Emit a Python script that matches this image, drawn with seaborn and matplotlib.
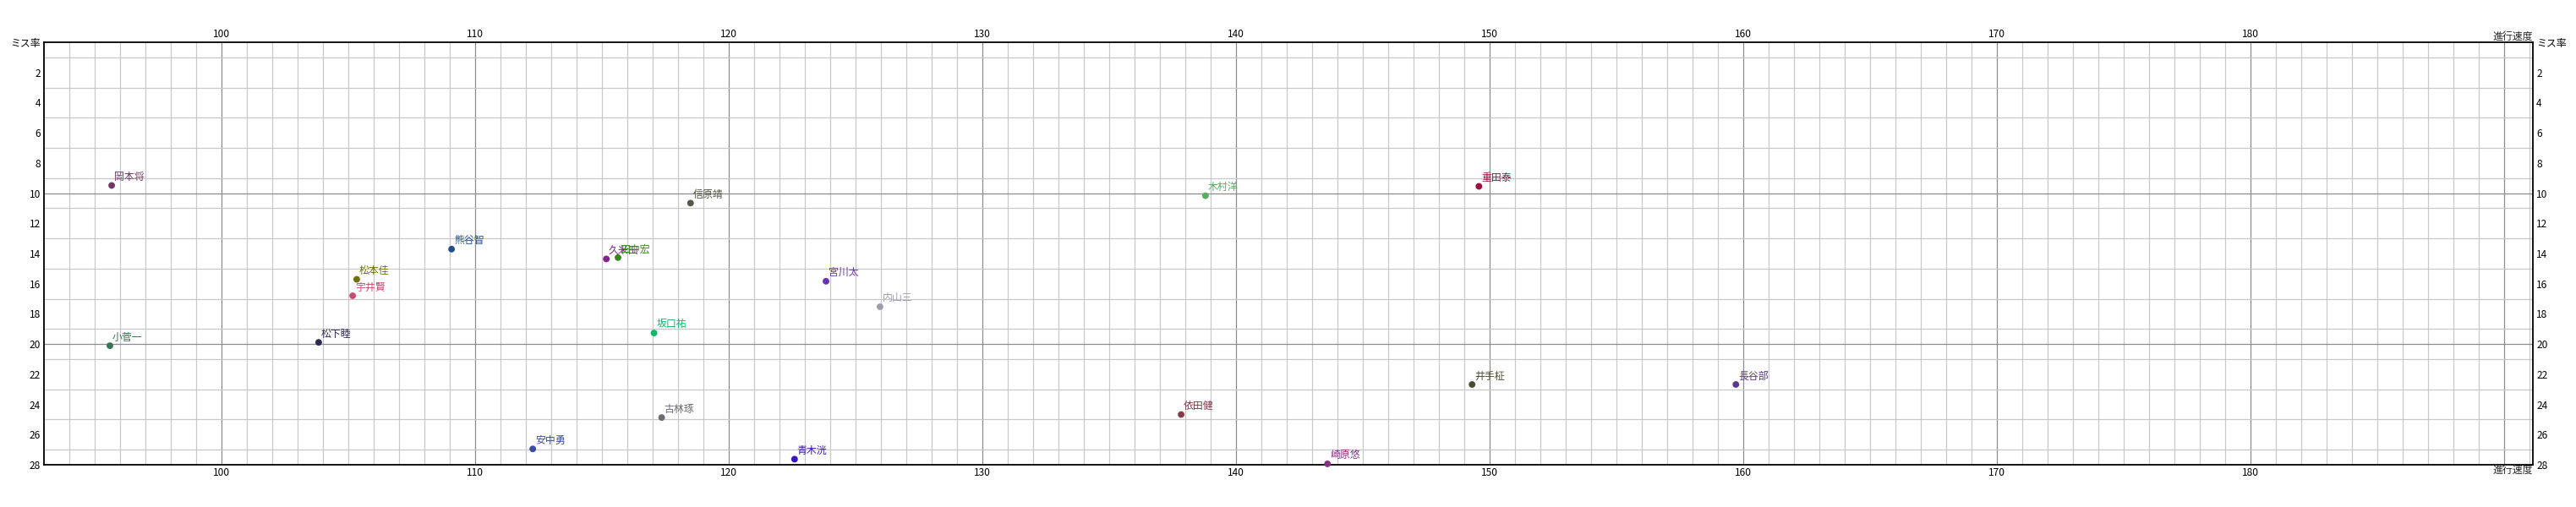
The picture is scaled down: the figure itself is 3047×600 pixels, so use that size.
import matplotlib
matplotlib.use("Agg")
import matplotlib.pyplot as plt
from matplotlib.ticker import MultipleLocator, FixedLocator, FuncFormatter
import seaborn as sns
import pandas as pd

names = ["岡本将", "小菅一", "松下睦", "松本佳", "宇井賢", "熊谷智", "信原靖", "久米田", "田中宏",
         "宮川太", "内山三", "坂口祐", "古林琢", "安中勇", "青木洸", "木村洋", "重田泰", "依田健",
         "崎原悠", "井手柾", "長谷部"]
speed = [95.67, 95.6, 103.83, 105.33, 105.17, 109.07, 118.49, 115.17, 115.63,
         123.83, 125.96, 117.05, 117.35, 112.27, 122.59, 138.79, 149.57, 137.83,
         143.6, 149.3, 159.7]
miss = [9.49, 20.11, 19.89, 15.71, 16.80, 13.71, 10.66, 14.36, 14.27,
        15.84, 17.53, 19.27, 24.87, 26.95, 27.63, 10.17, 9.55, 24.67,
        27.94, 22.68, 22.68]
colors = ["#70386a", "#3a7456", "#2c2a54", "#6e7008", "#cc4a72", "#22508a", "#56584a", "#82208e", "#33881a",
          "#6a32b8", "#a09cb0", "#10b868", "#6c6c78", "#3a4aa6", "#3a14c4", "#58ac64", "#9c1040", "#8a3a4a",
          "#8a3080", "#4a4c30", "#5c3a8a"]

x_ticks = [100, 110, 120, 130, 140, 150, 160, 170, 180, 190]
x_labels = ["100", "110", "120", "130", "140", "150", "160", "170", "180", ""]
y_ticks = list(range(0, 29, 2))
y_labels = ["ミス率"] + [str(v) for v in y_ticks[1:]]
y_major = [10, 20]
x_title = "進行速度"

sns.set_theme(style="white")
plt.rcParams["font.family"] = ["Noto Sans CJK JP", "DejaVu Sans"]

df = pd.DataFrame({"name": names, "speed": speed, "miss": miss})

fig = plt.figure(figsize=(30.47, 6.0), dpi=100)
ax = fig.add_axes([52 / 3047, 50 / 600, (2996 - 52) / 3047, 500 / 600])

sns.scatterplot(data=df, x="speed", y="miss", hue="name", palette=dict(zip(names, colors)),
                s=32, edgecolor="none", legend=False, ax=ax, zorder=5, clip_on=False)

for n, xv, yv, c in zip(names, speed, miss, colors):
    ax.annotate(n, (xv, yv), xytext=(2.0, 2.6), textcoords="offset points",
                ha="left", va="bottom", fontsize=8.6, color=c, zorder=6,
                arrowprops=dict(arrowstyle="-", color=c, lw=0.6, shrinkA=0, shrinkB=0))

ax.set_xlim(93.0, 191.12)
ax.set_ylim(28, 0)

ax.xaxis.set_major_locator(FixedLocator(x_ticks))
ax.set_xticklabels(x_labels)
ax.xaxis.set_minor_locator(MultipleLocator(1))
ax.yaxis.set_major_locator(FixedLocator(y_ticks))
ax.set_yticklabels(y_labels)
ax.yaxis.set_minor_locator(MultipleLocator(1))

ax.grid(False)
ax.grid(which="minor", color="#c8c8c8", lw=0.9)
ax.grid(which="major", axis="x", color="#8c8c8c", lw=0.9)
for v in y_major:
    ax.axhline(v, color="#8c8c8c", lw=0.9, zorder=0.6)
ax.set_axisbelow(True)

ax.tick_params(axis="x", which="both", length=0, labelsize=8.6, top=True, labeltop=True,
               bottom=True, labelbottom=True, pad=2, colors="black")
ax.tick_params(axis="y", which="both", length=0, labelsize=8.6, left=True, labelleft=True,
               right=True, labelright=True, pad=3, colors="black")

for s in ax.spines.values():
    s.set_color("black")
    s.set_linewidth(1.3)
    s.set_visible(True)

ax.set_xlabel("")
ax.set_ylabel("")
ax.text(1.0, 1.0, x_title, transform=ax.transAxes, ha="right", va="bottom", fontsize=8.6)
ax.text(1.0, 0.0, x_title, transform=ax.transAxes, ha="right", va="top", fontsize=8.6)

fig.savefig("out.png", dpi=100, facecolor="white")
